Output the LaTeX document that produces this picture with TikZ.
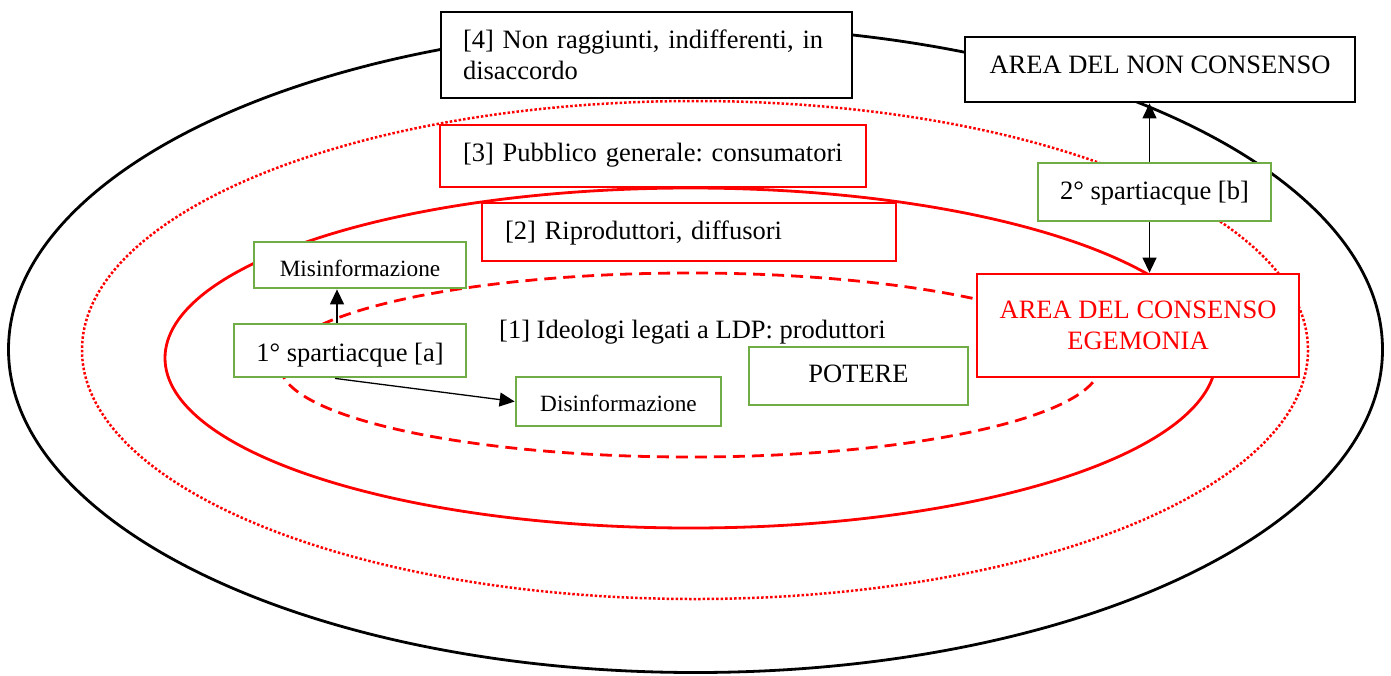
\documentclass[tikz,border=0pt]{standalone}
\usepackage{fontspec}
\setmainfont{Liberation Serif}
\usetikzlibrary{arrows.meta}
\definecolor{wgreen}{RGB}{112,173,71}
\definecolor{wred}{RGB}{255,0,0}
\begin{document}
\frenchspacing
\hyphenpenalty=10000
\begin{tikzpicture}[x=1pt,y=-1pt,
  box/.style={draw, fill=white, line width=2.8pt, inner xsep=0pt, inner ysep=0pt,
    font=\fontsize{26.5}{31}\selectfont},
  blackbox/.style={box, draw=black},
  redbox/.style={box, draw=wred},
  greenbox/.style={box, draw=wgreen},
  small/.style={font=\fontsize{23.3}{27}\selectfont},
  tb/.style={text depth=6pt, text height=#1},
  arr/.style={line width=1.3pt, -{Triangle[length=15pt,width=14pt]}},
  ring4/.style={line width=2.8pt, draw=black},
  ring3/.style={line width=2.5pt, draw=wred, dash pattern=on 2.5pt off 2pt},
  ring2/.style={line width=2.8pt, draw=wred},
  ring1/.style={line width=2.8pt, draw=wred, dash pattern=on 12pt off 7pt}
]
\useasboundingbox (0,0) rectangle (1391,675);
\fill[white] (0,0) rectangle (1391,675);

% rings
\draw[ring4] (695.5,349.5) ellipse [x radius=687, y radius=323];
\draw[ring3] (695,350) ellipse [x radius=613, y radius=249];
\draw[ring2] (690.5,358) ellipse [x radius=525.5, y radius=170];
\draw[ring1] (690,365) ellipse [x radius=410, y radius=92];

% boxes
\node[blackbox, minimum width=411, minimum height=86, inner xsep=22pt,
      text width=367pt, align=left] (n4) at (646.5,55)
  {[4] Non raggiunti, indifferenti, in\\disaccordo};
\node[blackbox, minimum width=390, minimum height=65, tb=13pt] (nc) at (1160,69.5)
  {AREA DEL NON CONSENSO};
\node[redbox, minimum width=426, minimum height=62, inner xsep=23pt,
      text width=380pt, align=left, tb=16pt] (p3) at (653,156)
  {[3] Pubblico generale: consumatori};
\node[redbox, minimum width=414, minimum height=58, inner xsep=23pt,
      text width=368pt, align=left, tb=20pt] (p2) at (689,232)
  {[2] Riproduttori, diffusori};
\node[greenbox, small, minimum width=212, minimum height=46, tb=28pt] (mis) at (360,265)
  {Misinformazione};
\node[greenbox, minimum width=232, minimum height=53, tb=27pt] (a1) at (350,350.5)
  {1° spartiacque [a]};
\node[anchor=base west, inner sep=0pt, font=\fontsize{26.5}{30}\selectfont] (l1) at (499,338)
  {[1] Ideologi legati a LDP: produttori};
\node[greenbox, small, minimum width=205, minimum height=49, tb=25pt] (dis) at (618.5,401.5)
  {Disinformazione};
\node[greenbox, minimum width=219, minimum height=58, tb=18pt] (pot) at (858.5,376)
  {POTERE};
\node[redbox, text=wred, minimum width=322, minimum height=103, align=center,
      font=\fontsize{26.5}{31}\selectfont] (cons) at (1138,325.5)
  {AREA DEL CONSENSO\\EGEMONIA};
\node[greenbox, minimum width=233, minimum height=58, tb=20pt] (b2) at (1154.5,192)
  {2° spartiacque [b]};

% connectors
\draw[arr] ([xshift=-13pt]a1.north) -- ([xshift=-13pt]a1.north |- mis.south);
\draw[arr] ([xshift=-15pt]a1.south) -- (dis.west);
\draw[arr] ([xshift=-5pt]b2.north) -- ([xshift=-5pt]b2.north |- nc.south);
\draw[arr] ([xshift=-5pt]b2.south) -- ([xshift=-5pt]b2.south |- cons.north);
\end{tikzpicture}
\end{document}
